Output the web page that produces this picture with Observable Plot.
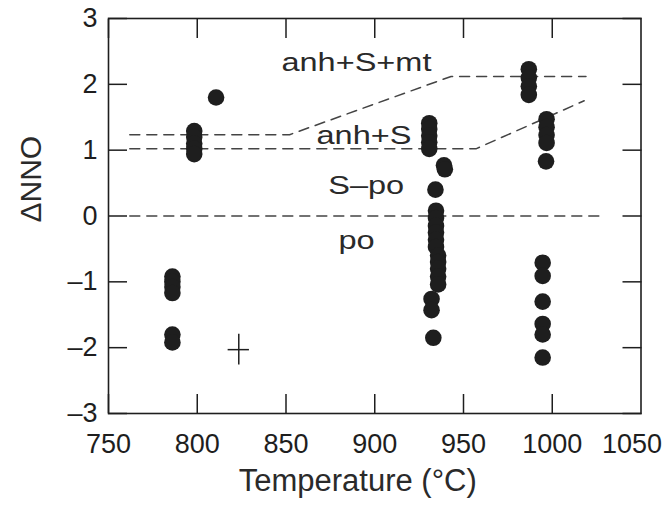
<!DOCTYPE html>
<html>
<head>
<meta charset="utf-8">
<script src="https://cdn.jsdelivr.net/npm/d3@7"></script>
<script src="https://cdn.jsdelivr.net/npm/@observablehq/plot@0.6"></script>
<style>
  html, body { margin: 0; padding: 0; background: #fff; }
  #chart { width: 667px; height: 514px; }
</style>
</head>
<body>
<div id="chart"></div>
<script>
// ---- data ----
const temperatureTicks = [750, 800, 850, 900, 950, 1000];
const temperatureEdgeTick = [1050];
const nnoTicks = [-3, -2, -1, 0, 1, 2, 3];

// experimental run conditions: temperature (°C) and ΔNNO
const sampleT = [
  786, 786, 786, 786, 786, 786,
  798.3, 798.3, 798.3, 798.3, 798.3,
  810.6,
  930.7, 930.7, 930.7, 930.7, 930.7,
  939, 939.5,
  934.2,
  934.5, 934.5, 934.5, 934.5, 934.5, 934.5,
  935.7, 935.7, 935.7, 935.7, 935.7,
  932, 932,
  933,
  986.8, 986.8, 986.8, 986.8,
  996.8, 996.8, 996.8, 996.8, 996.5,
  994.6, 994.6, 994.6, 994.6, 994.6, 994.6
];
const sampleNNO = [
  -0.92, -1.0, -1.08, -1.17, -1.80, -1.92,
  1.29, 1.20, 1.10, 1.02, 0.94,
  1.80,
  1.41, 1.32, 1.22, 1.12, 1.02,
  0.77, 0.71,
  0.40,
  0.08, -0.03, -0.15, -0.25, -0.36, -0.47,
  -0.60, -0.70, -0.80, -0.92, -1.04,
  -1.26, -1.43,
  -1.85,
  2.23, 2.10, 1.97, 1.84,
  1.47, 1.35, 1.23, 1.11, 0.83,
  -0.71, -0.91, -1.30, -1.64, -1.80, -2.15
];

// phase-field boundaries (dashed)
const mtBoundaryT = [762, 852, 943, 1019];
const mtBoundaryNNO = [1.235, 1.235, 2.12, 2.12];
const anhBoundaryT = [762, 957, 1018];
const anhBoundaryNNO = [1.02, 1.02, 1.75];
const poBoundaryT = [762, 1027];
const poBoundaryNNO = [0, 0];

// phase-field labels
const fieldNames = ["anh+S+mt", "anh+S", "S\u2013po", "po"];
const fieldT = [889.7, 893.9, 895.2, 889.7];
const fieldNNO = [2.33, 1.22, 0.46, -0.37];

// representative uncertainty cross
const errT = [823.4];
const errNNO = [-2.03];
const errDT = [6];
const errDNNO = [0.235];

// ---- tables built from the arrays ----
const samples = sampleT.map((t, i) => ({t, nno: sampleNNO[i]}));
const mkLine = (ts, ys, name) => ts.map((t, i) => ({t, nno: ys[i], name}));
const boundaries = [
  ...mkLine(mtBoundaryT, mtBoundaryNNO, "mt"),
  ...mkLine(anhBoundaryT, anhBoundaryNNO, "anh"),
  ...mkLine(poBoundaryT, poBoundaryNNO, "po")
];
const fields = fieldNames.map((name, i) => ({name, t: fieldT[i], nno: fieldNNO[i]}));
const errs = errT.map((t, i) => ({t, nno: errNNO[i], dt: errDT[i], dn: errDNNO[i]}));

const ink = "#1e1e1e";
const fmtX = d => String(d);
const fmtY = d => d < 0 ? "\u2013" + (-d) : String(d);

const chart = Plot.plot({
  width: 667,
  height: 514,
  marginLeft: 108,
  marginRight: 26.5,
  marginTop: 18,
  marginBottom: 101,
  style: {fontFamily: "'Liberation Sans', Arial, Helvetica, sans-serif", color: ink, background: "#fff"},
  x: {domain: [750, 1050]},
  y: {domain: [-3, 3]},
  marks: [
    Plot.line(boundaries, {x: "t", y: "nno", z: "name", stroke: "#444", strokeWidth: 1.5, strokeDasharray: "10,7"}),
    Plot.dot(samples, {x: "t", y: "nno", r: 8.3, fill: ink, stroke: "none"}),
    Plot.ruleY(errs, {x1: d => d.t - d.dt, x2: d => d.t + d.dt, y: "nno", stroke: ink, strokeWidth: 1.5}),
    Plot.ruleX(errs, {x: "t", y1: d => d.nno - d.dn, y2: d => d.nno + d.dn, stroke: ink, strokeWidth: 1.5}),
    Plot.text(fields, {x: "t", y: "nno", text: "name", fontSize: 26, fill: "#2a2a2a"}),
    Plot.axisX({anchor: "bottom", ticks: temperatureTicks, tickSize: -19, tickPadding: 39, tickFormat: fmtX, fontSize: 27, label: null, strokeWidth: 1.5}),
    Plot.axisX({anchor: "bottom", ticks: temperatureEdgeTick, tickSize: 0, tickPadding: 20, tickFormat: fmtX, textAnchor: "end", dx: 21, fontSize: 27, label: null}),
    Plot.axisX({anchor: "top", ticks: temperatureTicks, tickSize: -19, tickFormat: () => "", label: null, strokeWidth: 1.5}),
    Plot.axisY({anchor: "left", ticks: nnoTicks, tickSize: -19, tickPadding: 30, tickFormat: fmtY, fontSize: 27, label: null, strokeWidth: 1.5}),
    Plot.axisY({anchor: "right", ticks: nnoTicks, tickSize: -19, tickFormat: () => "", label: null, strokeWidth: 1.5}),
    Plot.frame({stroke: ink, strokeWidth: 1.6}),
    Plot.text(["Temperature (\u00B0C)"], {frameAnchor: "bottom", dx: -17, dy: 77, fontSize: 31, fill: "#2a2a2a"}),
    Plot.text(["\u0394NNO"], {frameAnchor: "left", rotate: -90, dx: -77, dy: 6.5, fontSize: 30, fill: "#2a2a2a"})
  ]
});

document.getElementById("chart").appendChild(chart);

// the reference lettering of the field labels is set wide
d3.select(chart).selectAll("text")
  .filter(function () { return fieldNames.includes(this.textContent); })
  .each(function () {
    const w = this.getComputedTextLength();
    if (w > 0) {
      this.setAttribute("textLength", (w * 1.25).toFixed(1));
      this.setAttribute("lengthAdjust", "spacingAndGlyphs");
    }
  });
</script>
</body>
</html>
